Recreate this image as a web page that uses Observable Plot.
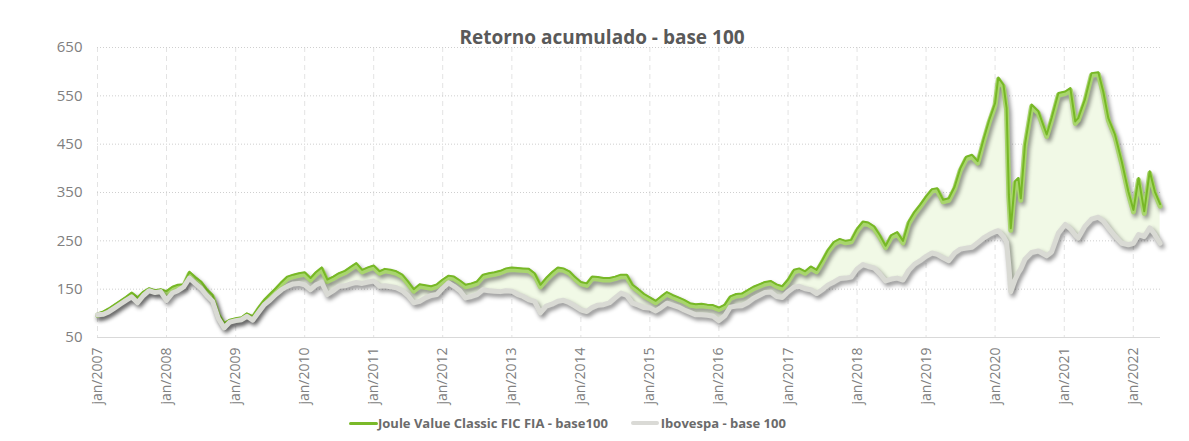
<!DOCTYPE html>
<html>
<head>
<meta charset="utf-8">
<script src="https://cdn.jsdelivr.net/npm/d3@7"></script>
<script src="https://cdn.jsdelivr.net/npm/@observablehq/plot@0.6"></script>
<style>
  html, body { margin: 0; padding: 0; background: #fff; width: 1189px; height: 441px; overflow: hidden; }
  body { font-family: "Open Sans", sans-serif; position: relative; }
  #title { height: 30px; box-sizing: border-box; padding-top: 26px; padding-left: 15px; text-align: center;
           font: bold 19px/22px "Open Sans", sans-serif; color: #595959; overflow: visible; white-space: nowrap; }
  #legend { position: absolute; top: 413px; left: 349px; display: flex; align-items: center; height: 20px;
            font: bold 13px/20px "Open Sans", sans-serif; color: #6b6b6b; white-space: nowrap; }
  .sw { display: inline-block; height: 3px; border-radius: 2px; }
</style>
</head>
<body>
<div id="title">Retorno acumulado - base 100</div>
<div id="chart"></div>
<div id="legend">
  <span class="sw" style="width:29px;background:#7ab929;"></span><span>Joule Value Classic FIC FIA - base100</span>
  <span class="sw" style="width:28px;background:#dadad6;margin-left:23px;height:4px;"></span><span style="margin-left:2px">Ibovespa - base 100</span>
</div>
<script>
// ---- data ----
const seriesNames = ["Joule Value Classic FIC FIA - base100", "Ibovespa - base 100"];

const dates = [
  "2007-01","2007-02","2007-03","2007-04","2007-05","2007-06","2007-07","2007-08","2007-09","2007-10","2007-11","2007-12",
  "2008-01","2008-02","2008-03","2008-04","2008-05","2008-06","2008-07","2008-08","2008-09","2008-10","2008-11","2008-12",
  "2009-01","2009-02","2009-03","2009-04","2009-05","2009-06","2009-07","2009-08","2009-09","2009-10","2009-11","2009-12",
  "2010-01","2010-02","2010-03","2010-04","2010-05","2010-06","2010-07","2010-08","2010-09","2010-10","2010-11","2010-12",
  "2011-01","2011-02","2011-03","2011-04","2011-05","2011-06","2011-07","2011-08","2011-09","2011-10","2011-11","2011-12",
  "2012-01","2012-02","2012-03","2012-04","2012-05","2012-06","2012-07","2012-08","2012-09","2012-10","2012-11","2012-12",
  "2013-01","2013-02","2013-03","2013-04","2013-05","2013-06","2013-07","2013-08","2013-09","2013-10","2013-11","2013-12",
  "2014-01","2014-02","2014-03","2014-04","2014-05","2014-06","2014-07","2014-08","2014-09","2014-10","2014-11","2014-12",
  "2015-01","2015-02","2015-03","2015-04","2015-05","2015-06","2015-07","2015-08","2015-09","2015-10","2015-11","2015-12",
  "2016-01","2016-02","2016-03","2016-04","2016-05","2016-06","2016-07","2016-08","2016-09","2016-10","2016-11","2016-12",
  "2017-01","2017-02","2017-03","2017-04","2017-05","2017-06","2017-07","2017-08","2017-09","2017-10","2017-11","2017-12",
  "2018-01","2018-02","2018-03","2018-04","2018-05","2018-06","2018-07","2018-08","2018-09","2018-10","2018-11","2018-12",
  "2019-01","2019-02","2019-03","2019-04","2019-05","2019-06","2019-07","2019-08","2019-09","2019-10","2019-11","2019-12",
  "2020-01-01","2020-01-18","2020-02-14","2020-03-02","2020-03-14","2020-03-24","2020-04-15","2020-05-03","2020-05-16","2020-06-07",
  "2020-07-12","2020-08-17","2020-09-30","2020-10-26","2020-12-01",
  "2021-01-06","2021-02-02","2021-02-28","2021-03-16","2021-04-20","2021-05-25","2021-06-30","2021-07-26","2021-08-22","2021-09-26",
  "2021-11-01","2021-12-06",
  "2022-01-02","2022-01-29","2022-02-28","2022-03-29","2022-04-25","2022-05-23"
];

const fund = [
  100,104,110,118,126,134,143,133,145,152,148,150,
  146,155,159,160,186,175,166,150,138,100,80,87,
  90,92,100,94,112,128,140,152,165,176,180,183,
  185,173,185,195,170,176,183,188,196,204,190,195,
  199,187,192,190,187,180,166,150,160,158,156,160,
  170,178,176,168,159,162,166,180,183,185,188,193,
  195,194,193,192,183,159,173,185,195,193,187,175,
  165,162,176,175,173,173,176,180,180,159,150,140,
  133,126,135,144,138,133,128,121,119,120,118,117,
  112,118,135,140,141,148,155,160,165,167,160,156,
  170,190,193,187,197,190,210,232,248,254,250,252,
  275,290,288,280,262,240,262,268,250,290,310,325,
  342,357,359,335,338,362,400,424,428,415,460,500,
  535,588,573,525,345,276,373,380,338,449,
  532,518,470,504,556,
  559,566,497,504,542,597,599,559,504,470,
  414,352,
  314,380,311,394,352,326
];

const ibov = [
  100,101,106,114,122,130,137,125,140,150,146,148,
  130,145,150,158,176,165,155,140,128,93,73,85,
  88,90,97,89,105,121,130,142,152,159,164,165,
  162,152,162,167,142,150,159,160,164,167,165,168,
  170,159,160,158,156,150,140,125,128,135,140,142,
  155,166,159,150,135,138,142,152,150,149,148,150,
  149,142,138,131,128,104,118,122,128,130,125,118,
  110,107,115,120,121,125,135,145,140,124,120,115,
  114,108,115,124,120,116,110,105,100,100,99,97,
  88,98,116,118,119,125,134,140,146,147,138,136,
  148,157,159,154,152,144,152,162,168,175,176,178,
  195,204,200,197,185,170,174,176,172,192,205,212,
  221,228,225,218,212,228,236,238,240,249,259,266,
  272,274,262,250,200,148,172,187,195,215,
  229,232,222,230,269,
  287,278,265,259,283,298,302,294,280,263,
  248,245,
  248,266,262,280,266,248
];

const yTicks = [50, 150, 250, 350, 450, 550, 650];
const xTickYears = d3.range(2007, 2023);

// ---- build rows ----
const rows = dates.map((d, i) => ({ date: new Date(d.length === 7 ? d + "-01" : d), fund: fund[i], ibov: ibov[i] }));
const xTicks = xTickYears.map(y => new Date(Date.UTC(y, 0, 1)));

const chart = Plot.plot({
  width: 1189,
  height: 380,
  marginTop: 17,
  marginBottom: 73,
  marginLeft: 97,
  marginRight: 29,
  style: { fontFamily: "'Open Sans', sans-serif", fontSize: "14px", color: "#808080", background: "transparent", overflow: "visible" },
  x: { type: "utc", domain: [new Date("2007-01-01"), new Date("2022-05-25")] },
  y: { domain: [50, 650] },
  marks: [
    Plot.gridX(xTicks, { stroke: "#e3e3e3", strokeOpacity: 1, strokeDasharray: "5,4" }),
    Plot.gridY(yTicks.slice(1), { stroke: "#cfcfcf", strokeOpacity: 1, strokeDasharray: "1,2" }),
    Plot.ruleY([50], { stroke: "#d9d9d9", strokeWidth: 1.2 }),
    Plot.areaY(rows, { x: "date", y1: "ibov", y2: "fund", fill: "#f1f9e6", curve: "linear" }),
    Plot.lineY(rows, { x: "date", y: "fund", stroke: "#a8d56d", strokeWidth: 5, dy: 2, ariaDescription: "fund-band" }),
    Plot.lineY(rows, { x: "date", y: "fund", stroke: "#77b826", strokeWidth: 2, ariaDescription: "fund-line" }),
    Plot.lineY(rows, { x: "date", y: "ibov", stroke: "#d9dad4", strokeWidth: 5, dy: 1.5, ariaDescription: "ibov-band" }),
    Plot.axisY(yTicks, { tickSize: 0, tickPadding: 15, fontSize: 15, fill: "#808080" }),
    Plot.axisX(xTicks, { tickSize: 0, tickPadding: 10, tickRotate: -90, fontSize: 14, fill: "#808080",
      tickFormat: d => "jan/" + d.getUTCFullYear() })
  ]
});

d3.select(chart).selectAll('g[aria-description="fund-band"], g[aria-description="ibov-band"]')
  .style("filter", "drop-shadow(2px 3px 2px rgba(0,0,0,0.45))");

document.getElementById("chart").appendChild(chart);
</script>
</body>
</html>
